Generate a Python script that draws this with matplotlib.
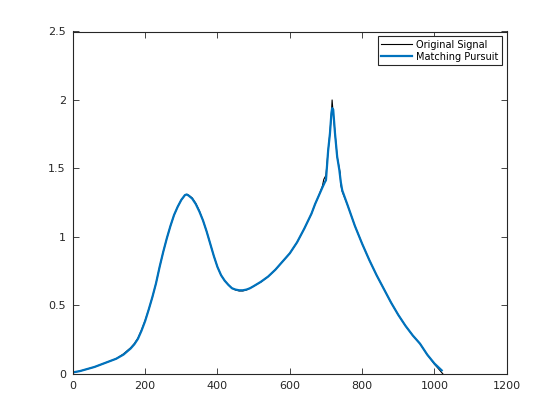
import matplotlib
matplotlib.use('Agg')
import matplotlib.pyplot as plt

# original signal
orig_x = [0, 20, 40, 60, 80, 100, 120, 140, 160, 170, 180, 190, 200, 210, 220,
          230, 240, 250, 260, 270, 280, 290, 300, 310, 315, 320, 330, 340, 350,
          360, 370, 380, 390, 400, 410, 420, 430, 440, 450, 460, 470, 480, 490,
          500, 520, 540, 560, 580, 600, 620, 640, 660, 670, 680, 690, 694, 700,
          706, 711, 715, 717, 719, 722, 725, 731, 739, 741, 745, 760, 780, 800,
          820, 840, 860, 880, 900, 920, 940, 960, 980, 1000, 1010, 1023]
orig_y = [0.01, 0.02, 0.035, 0.05, 0.07, 0.09, 0.11, 0.145, 0.19, 0.22, 0.26,
          0.32, 0.39, 0.47, 0.56, 0.66, 0.78, 0.89, 0.99, 1.08, 1.16, 1.22, 1.27,
          1.305, 1.31, 1.305, 1.285, 1.245, 1.19, 1.12, 1.04, 0.95, 0.86, 0.78,
          0.72, 0.68, 0.65, 0.625, 0.612, 0.605, 0.605, 0.612, 0.625, 0.64, 0.67,
          0.71, 0.76, 0.82, 0.88, 0.96, 1.06, 1.17, 1.24, 1.30, 1.37, 1.42, 1.45,
          1.63, 1.76, 1.9, 2.0, 1.93, 1.85, 1.76, 1.585, 1.47, 1.38, 1.33, 1.23,
          1.08, 0.95, 0.83, 0.72, 0.62, 0.52, 0.43, 0.35, 0.28, 0.22, 0.14, 0.07,
          0.04, 0.0]

# matching pursuit approximation
mp_x = [0, 20, 40, 60, 80, 100, 120, 140, 160, 170, 180, 190, 200, 210, 220,
        230, 240, 250, 260, 270, 280, 290, 300, 310, 315, 320, 330, 340, 350,
        360, 370, 380, 390, 400, 410, 420, 430, 440, 450, 460, 470, 480, 490,
        500, 520, 540, 560, 580, 600, 620, 640, 660, 670, 680, 690, 697, 700,
        706, 711, 715, 717, 720, 725, 731, 737, 741, 745, 760, 780, 800, 820,
        840, 860, 880, 900, 920, 940, 960, 980, 1000, 1020]
mp_y = [0.01, 0.02, 0.035, 0.05, 0.07, 0.09, 0.11, 0.14, 0.185, 0.215, 0.255,
        0.315, 0.385, 0.47, 0.56, 0.66, 0.78, 0.89, 0.99, 1.08, 1.16, 1.22, 1.27,
        1.305, 1.31, 1.302, 1.28, 1.24, 1.185, 1.12, 1.04, 0.95, 0.86, 0.78,
        0.72, 0.68, 0.65, 0.625, 0.615, 0.61, 0.61, 0.615, 0.625, 0.64, 0.672,
        0.71, 0.76, 0.82, 0.88, 0.96, 1.06, 1.17, 1.24, 1.30, 1.36, 1.40, 1.414,
        1.63, 1.755, 1.9, 1.94, 1.93, 1.755, 1.585, 1.488, 1.40, 1.34, 1.23, 1.08,
        0.95, 0.83, 0.72, 0.62, 0.52, 0.43, 0.35, 0.28, 0.22, 0.14, 0.075, 0.025]

axcol = '#262626'
plt.rcParams['font.family'] = 'DejaVu Sans'

fig = plt.figure(figsize=(5.6, 4.2), dpi=100)
ax = fig.add_axes([0.13, 0.11, 0.775, 0.815])

ax.plot(orig_x, orig_y, color='black', lw=0.8, label='Original Signal')
ax.plot(mp_x, mp_y, color='#0072BD', lw=1.6, label='Matching Pursuit')

ax.set_xlim(0, 1200)
ax.set_ylim(0, 2.5)
ax.set_xticks([0, 200, 400, 600, 800, 1000, 1200])
ax.set_yticks([0, 0.5, 1, 1.5, 2, 2.5])
ax.set_yticklabels(['0', '0.5', '1', '1.5', '2', '2.5'])
ax.tick_params(direction='in', top=True, right=True, length=4, width=0.6,
               colors=axcol, labelsize=8, pad=5)
for s in ax.spines.values():
    s.set_color(axcol)
    s.set_linewidth(0.8)

leg = ax.legend(loc='upper right', fontsize=7, fancybox=False, framealpha=1,
                edgecolor=axcol, borderaxespad=0.5, handlelength=3.2,
                borderpad=0.35, labelspacing=0.2, handletextpad=0.4)
leg.get_frame().set_linewidth(0.8)

fig.savefig('out.png', dpi=100)
